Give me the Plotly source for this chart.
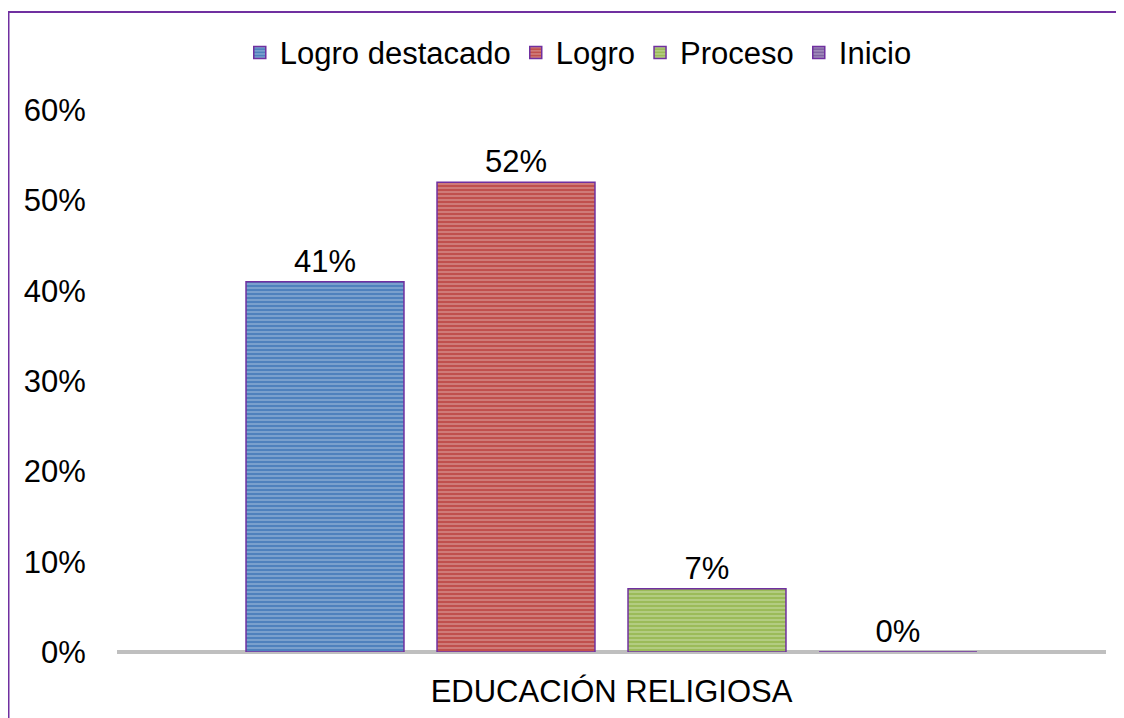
import plotly.graph_objects as go

# datos
categorias = ["EDUCACIÓN RELIGIOSA"]
niveles = ["Logro destacado", "Logro", "Proceso", "Inicio"]
valores = [0.41, 0.52, 0.07, 0.00]
colores = ["#4F81BD", "#C0504D", "#9BBB59", "#8064A2"]
ticks_y = [0, 0.1, 0.2, 0.3, 0.4, 0.5, 0.6]

# geometría de la figura (la página añade 8 px de margen)
W, H = 1116, 710
ML, MR, MT, MB = 109, 18, 102, 66
PW, PH = W - ML - MR, H - MT - MB

fig = go.Figure()

for nombre, val, col in zip(niveles, valores, colores):
    fig.add_trace(go.Bar(
        x=categorias, y=[val], name=nombre,
        marker=dict(
            color=col,
            line=dict(color="#7030A0", width=1.5),
            pattern=dict(shape="-", fgcolor="rgba(255,255,255,0.7)",
                         size=4, solidity=0.35, fillmode="overlay"),
        ),
        text=[f"{val:.0%}"], textposition="outside",
        textfont=dict(size=31, color="#000000"),
        cliponaxis=False,
    ))

fig.update_layout(
    width=W, height=H,
    barmode="group", bargap=0.2275, bargroupgap=0.173,
    paper_bgcolor="white", plot_bgcolor="white",
    font=dict(family="Liberation Sans, Arial", size=31, color="#000000"),
    margin=dict(l=ML, r=MR, t=MT, b=MB),
    legend=dict(orientation="h", xref="container", yref="container",
                x=0.511, y=0.937, xanchor="center", yanchor="middle",
                font=dict(size=31), itemwidth=30, traceorder="normal"),
    showlegend=True,
)
# la línea de cero va por encima de las barras: tapa el borde de la de 0 %
fig.update_yaxes(range=[0, 0.6], tickvals=ticks_y, tickformat=".0%",
                 showgrid=False, showline=False, automargin=False,
                 zeroline=True, zerolinecolor="#BFBFBF", zerolinewidth=4,
                 layer="above traces",
                 ticks="outside", ticklen=24, tickcolor="rgba(0,0,0,0)")
fig.update_xaxes(showline=False, showgrid=False, automargin=False,
                 ticks="outside", ticklen=12, tickcolor="rgba(0,0,0,0)")

# marco exterior (solo se ven los bordes superior e izquierdo)
fig.add_shape(type="rect", xref="paper", yref="paper",
              x0=(0.5 - ML) / PW, x1=(W + 6 - ML) / PW,
              y0=-(MB + 6) / PH, y1=(PH + MT - 4) / PH,
              line=dict(color="#7030A0", width=2), layer="below")

fig.write_html("out.html")
